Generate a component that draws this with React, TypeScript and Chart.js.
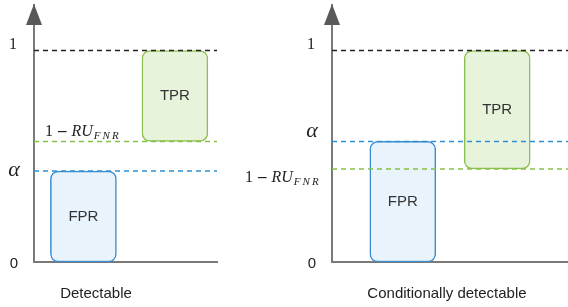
import React, { useEffect, useRef } from "react";
import { Chart, registerables } from "chart.js";
Chart.register(...registerables);

// ---- Data (values in axis units) ----
const boxLabels = ["FPR", "TPR"];
const yTickTop = 1;
const yTickBottom = 0;
const yAxisMax = 1.215;

// Left panel: "Detectable"
const leftTitle = "Detectable";
const leftBoxX = [0.27, 0.77];
const leftFPR = [0, 0.43];
const leftTPR = [0.57, 1];
const leftAlpha = 0.43;
const leftOneMinusRU = 0.57;

// Right panel: "Conditionally detectable"
const rightTitle = "Conditionally detectable";
const rightBoxX = [0.3, 0.7];
const rightFPR = [0, 0.57];
const rightTPR = [0.44, 1];
const rightAlpha = 0.57;
const rightOneMinusRU = 0.44;

// ---- Styles ----
const BLUE = "#3a8bcf";
const BLUE_FILL = "#e8f3fc";
const GREEN = "#8cc152";
const GREEN_FILL = "#e7f3da";
const DASH_BLUE = "#2e90d4";
const DASH_GREEN = "#86c145";
const DASH_BLACK = "#222222";
const AXIS = "#7a7a7a";
const SANS = "'Liberation Sans', Arial, sans-serif";
const SERIF = "'Liberation Serif', 'Times New Roman', serif";

type PanelSpec = {
  title: string;
  boxX: number[];
  fpr: number[];
  tpr: number[];
  alpha: number;
  ru: number;
  width: number;
  left: number;
  pad: { left: number; right: number; top: number; bottom: number };
  titleX: number;
  alphaDy: number;
  ruX: number;
  ruDy: number;
};

const panels: PanelSpec[] = [
  {
    title: leftTitle,
    boxX: leftBoxX,
    fpr: leftFPR,
    tpr: leftTPR,
    alpha: leftAlpha,
    ru: leftOneMinusRU,
    width: 240,
    left: 0,
    pad: { left: 34, right: 23, top: 5, bottom: 45 },
    titleX: 96,
    alphaDy: 5,
    ruX: 45,
    ruDy: -5,
  },
  {
    title: rightTitle,
    boxX: rightBoxX,
    fpr: rightFPR,
    tpr: rightTPR,
    alpha: rightAlpha,
    ru: rightOneMinusRU,
    width: 328,
    left: 240,
    pad: { left: 92, right: 0, top: 5, bottom: 45 },
    titleX: 207,
    alphaDy: -4,
    ruX: 5,
    ruDy: 13,
  },
];

function makeDecor(p: PanelSpec) {
  return {
    id: "decor",
    afterDatasetsDraw(chart: any) {
      const { ctx, chartArea: a } = chart;
      const y = chart.scales.y;
      ctx.save();
      // box labels
      chart.data.datasets.forEach((ds: any, i: number) => {
        if (ds.type === "line") return;
        const el: any = chart.getDatasetMeta(i).data[0];
        if (!el) return;
        ctx.font = `15px ${SANS}`;
        ctx.fillStyle = "#333333";
        ctx.textAlign = "center";
        ctx.textBaseline = "middle";
        ctx.fillText(ds.label, el.x, (el.y + el.base) / 2);
      });
      // y labels
      ctx.textAlign = "center";
      ctx.textBaseline = "alphabetic";
      ctx.fillStyle = "#222222";
      ctx.font = `16px ${SERIF}`;
      ctx.fillText(String(yTickTop), a.left - 21, y.getPixelForValue(yTickTop) - 1.5);
      ctx.font = `15px ${SANS}`;
      ctx.fillText(String(yTickBottom), a.left - 20, y.getPixelForValue(yTickBottom) + 6);
      ctx.font = `italic 22px ${SERIF}`;
      ctx.fillText("α", a.left - 20, y.getPixelForValue(p.alpha) + p.alphaDy);
      // 1 − RU_FNR
      ctx.textAlign = "left";
      let x = p.ruX;
      const by = y.getPixelForValue(p.ru) + p.ruDy;
      ctx.font = `16px ${SERIF}`;
      ctx.fillText("1", x, by);
      x += ctx.measureText("1").width + 5;
      ctx.font = `bold 17px ${SERIF}`;
      ctx.fillText("–", x, by);
      x += ctx.measureText("–").width + 5;
      ctx.font = `italic 16px ${SERIF}`;
      ctx.fillText("RU", x, by);
      x += ctx.measureText("RU").width + 1;
      ctx.font = `italic 11px ${SERIF}`;
      for (const ch of "FNR") {
        ctx.fillText(ch, x, by + 3);
        x += ctx.measureText(ch).width + 2;
      }
      // x title
      ctx.textAlign = "center";
      ctx.font = `15px ${SANS}`;
      ctx.fillStyle = "#222222";
      ctx.fillText(p.title, p.titleX, 298);
      ctx.restore();
    },
    afterDraw(chart: any) {
      const { ctx, chartArea: a } = chart;
      ctx.save();
      ctx.fillStyle = "#595959";
      ctx.beginPath();
      ctx.moveTo(a.left, a.top - 1);
      ctx.lineTo(a.left + 8, a.top + 20);
      ctx.lineTo(a.left - 8, a.top + 20);
      ctx.closePath();
      ctx.fill();
      ctx.restore();
    },
  };
}

function Panel({ p }: { p: PanelSpec }) {
  const ref = useRef<HTMLCanvasElement | null>(null);
  useEffect(() => {
    if (!ref.current) return;
    const hLine = (v: number, color: string) => ({
      type: "line" as const,
      label: "",
      data: [
        { x: 0, y: v },
        { x: 1, y: v },
      ],
      borderColor: color,
      borderWidth: 1.5,
      borderDash: [5, 4],
      pointRadius: 0,
      fill: false,
      order: 0,
    });
    const chart = new Chart(ref.current, {
      type: "bar",
      data: {
        datasets: [
          {
            type: "bar",
            label: boxLabels[0],
            data: [{ x: p.boxX[0], y: p.fpr }] as any,
            backgroundColor: BLUE_FILL,
            borderColor: BLUE,
            borderWidth: 1.5,
            borderRadius: 8,
            borderSkipped: false,
            barThickness: 66,
            grouped: false,
            order: 1,
          } as any,
          {
            type: "bar",
            label: boxLabels[1],
            data: [{ x: p.boxX[1], y: p.tpr }] as any,
            backgroundColor: GREEN_FILL,
            borderColor: GREEN,
            borderWidth: 1.5,
            borderRadius: 8,
            borderSkipped: false,
            barThickness: 66,
            grouped: false,
            order: 1,
          } as any,
          hLine(yTickTop, DASH_BLACK) as any,
          hLine(p.ru, DASH_GREEN) as any,
          hLine(p.alpha, DASH_BLUE) as any,
        ],
      },
      options: {
        responsive: false,
        animation: false,
        layout: { padding: p.pad },
        plugins: {
          legend: { display: false },
          tooltip: { enabled: false },
          title: { display: false },
        },
        scales: {
          x: {
            type: "linear",
            min: 0,
            max: 1,
            offset: false,
            ticks: { display: false },
            grid: { display: false, drawTicks: false },
            border: { display: true, color: AXIS, width: 2 },
          },
          y: {
            type: "linear",
            min: 0,
            max: yAxisMax,
            ticks: { display: false },
            grid: { display: false, drawTicks: false },
            border: { display: true, color: AXIS, width: 2 },
          },
        },
      },
      plugins: [makeDecor(p)],
    } as any);
    return () => chart.destroy();
  }, [p]);
  return (
    <canvas
      ref={ref}
      width={p.width}
      height={307}
      style={{ position: "absolute", left: p.left, top: 0, display: "block" }}
    />
  );
}

export default function App() {
  return (
    <div
      style={{
        position: "fixed",
        left: 0,
        top: 0,
        width: 568,
        height: 307,
        background: "#ffffff",
        overflow: "hidden",
      }}
    >
      {panels.map((p, i) => (
        <Panel key={i} p={p} />
      ))}
    </div>
  );
}
